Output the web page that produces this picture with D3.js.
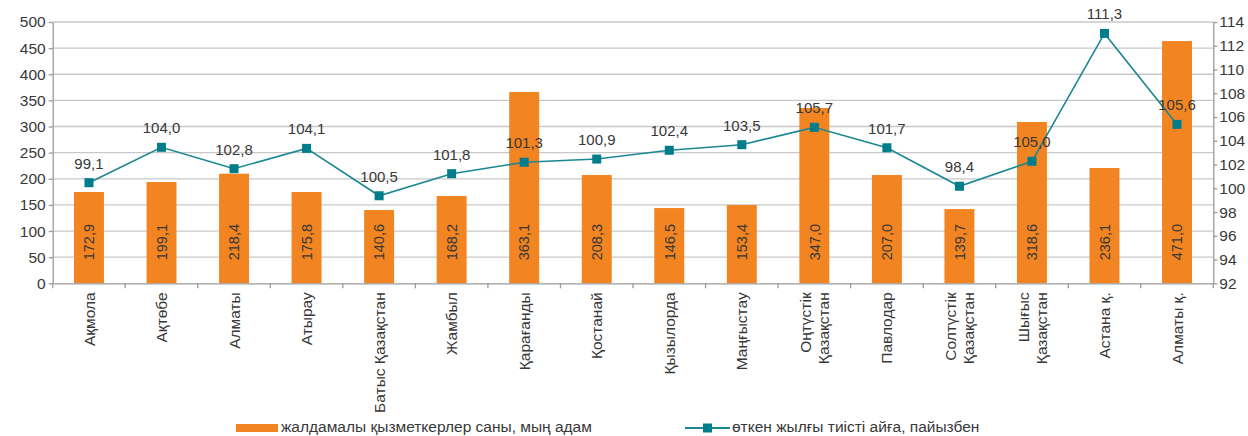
<!DOCTYPE html>
<html>
<head>
<meta charset="utf-8">
<script src="https://cdn.jsdelivr.net/npm/d3@7"></script>
<style>
  body { margin: 0; background: #fff; }
  svg { display: block; font-family: "Liberation Sans", Arial, sans-serif; }
</style>
</head>
<body>
<svg></svg>
<script>
const w = 1248;
const h = 436;

// regions
const regions = ["Ақмола", "Ақтөбе", "Алматы", "Атырау", "Батыс Қазақстан", "Жамбыл",
  "Қарағанды", "Қостанай", "Қызылорда", "Маңғыстау", "Оңтүстік\nҚазақстан", "Павлодар",
  "Солтүстік\nҚазақстан", "Шығыс\nҚазақстан", "Астана қ.", "Алматы қ."];

// bar heights as drawn (left axis)
const employees = [174.7, 193.8, 209.7, 174.7, 140.2, 167, 366, 207.2,
  144, 149.8, 335.4, 207.2, 142, 308.6, 220.6, 463.5];
const employeeLabels = ["172,9", "199,1", "218,4", "175,8", "140,6", "168,2", "363,1", "208,3",
  "146,5", "153,4", "347,0", "207,0", "139,7", "318,6", "236,1", "471,0"];

// line points as drawn (right axis)
const percent = [100.47, 103.45, 101.65, 103.36, 99.37, 101.23, 102.19, 102.46,
  103.2, 103.67, 105.13, 103.41, 100.17, 102.27, 113.04, 105.38];
const percentLabels = ["99,1", "104,0", "102,8", "104,1", "100,5", "101,8", "101,3", "100,9",
  "102,4", "103,5", "105,7", "101,7", "98,4", "105,0", "111,3", "105,6"];

const leftTicks = [0, 50, 100, 150, 200, 250, 300, 350, 400, 450, 500];
const rightTicks = [92, 94, 96, 98, 100, 102, 104, 106, 108, 110, 112, 114];

const legendBar = "жалдамалы қызметкерлер саны, мың адам";
const legendLine = "өткен жылғы тиісті айға, пайызбен";

const orange = "#f28521";
const teal = "#1a8793";
const marker = "#007c8a";
const textColor = "#383838";
const axisColor = "#9a9a9a";

const plotLeft = 52.7, plotRight = 1213.3, plotTop = 22, plotBottom = 283.3;

const svg = d3.select("svg").attr("width", w).attr("height", h);

const x = d3.scaleBand().domain(regions).range([plotLeft, plotRight]);
const yL = d3.scaleLinear().domain([0, 500]).range([plotBottom, plotTop]);
const yR = d3.scaleLinear().domain([92, 114]).range([plotBottom, plotTop]);

// gridlines
svg.append("g")
   .selectAll("line")
   .data(leftTicks.slice(1))
   .enter()
   .append("line")
   .attr("x1", plotLeft)
   .attr("x2", plotRight)
   .attr("y1", d => yL(d))
   .attr("y2", d => yL(d))
   .attr("stroke", "#c8c8c8")
   .attr("stroke-width", 1.3);

// bars
const barW = x.bandwidth() * 0.413;
svg.append("g")
   .selectAll("rect")
   .data(employees)
   .enter()
   .append("rect")
   .attr("x", (d, i) => x(regions[i]) + x.bandwidth() / 2 - barW / 2)
   .attr("y", d => yL(d))
   .attr("width", barW)
   .attr("height", d => yL(0) - yL(d))
   .attr("fill", orange);

// bar labels (inside base, rotated)
svg.append("g")
   .selectAll("text")
   .data(employeeLabels)
   .enter()
   .append("text")
   .attr("transform", (d, i) => `translate(${x(regions[i]) + x.bandwidth() / 2}, ${yL(0) - 23}) rotate(-90)`)
   .attr("dy", "0.36em")
   .attr("font-size", 14.5)
   .attr("fill", textColor)
   .text(d => d);

// axes
const leftAxis = svg.append("g")
   .attr("transform", `translate(${plotLeft}, 0)`)
   .call(d3.axisLeft(yL).tickValues(leftTicks).tickSize(4).tickSizeOuter(0).tickPadding(3));

const rightAxis = svg.append("g")
   .attr("transform", `translate(${plotRight}, 0)`)
   .call(d3.axisRight(yR).tickValues(rightTicks).tickSize(4).tickSizeOuter(0).tickPadding(2));

const bottomAxis = svg.append("g")
   .attr("transform", `translate(0, ${plotBottom})`)
   .call(d3.axisBottom(x).tickSize(0).tickPadding(9));

[leftAxis, rightAxis, bottomAxis].forEach(g => {
  g.selectAll("path, line").attr("stroke", axisColor).attr("stroke-width", 1.3);
  g.selectAll("text").attr("fill", textColor).attr("font-size", 15.5).attr("font-family", null);
});

// x tick marks at band edges
bottomAxis.append("g")
   .selectAll("line")
   .data(regions.concat([null]))
   .enter()
   .append("line")
   .attr("x1", (d, i) => plotLeft + i * x.step())
   .attr("x2", (d, i) => plotLeft + i * x.step())
   .attr("y1", 0)
   .attr("y2", 5)
   .attr("stroke", axisColor)
   .attr("stroke-width", 1.3);

// rotated category labels, split on newline
bottomAxis.selectAll(".tick text")
   .each(function (d) {
     const t = d3.select(this);
     const lines = d.split("\n");
     t.text(null)
      .attr("transform", "rotate(-90)")
      .attr("text-anchor", "end")
      .attr("y", 0)
      .attr("dy", null);
     lines.forEach((ln, k) => {
       t.append("tspan")
        .attr("x", -9)
        .attr("dy", k === 0 ? (0.36 - (lines.length - 1) * 0.58) + "em" : "1.16em")
        .text(ln);
     });
   });

// line series
const line = d3.line()
   .x((d, i) => x(regions[i]) + x.bandwidth() / 2)
   .y(d => yR(d));

svg.append("path")
   .datum(percent)
   .attr("d", line)
   .attr("fill", "none")
   .attr("stroke", teal)
   .attr("stroke-width", 1.6);

svg.append("g")
   .selectAll("rect")
   .data(percent)
   .enter()
   .append("rect")
   .attr("x", (d, i) => x(regions[i]) + x.bandwidth() / 2 - 4.5)
   .attr("y", d => yR(d) - 4.5)
   .attr("width", 9)
   .attr("height", 9)
   .attr("fill", marker);

svg.append("g")
   .selectAll("text")
   .data(percentLabels)
   .enter()
   .append("text")
   .attr("x", (d, i) => x(regions[i]) + x.bandwidth() / 2)
   .attr("y", (d, i) => yR(percent[i]) - 14)
   .attr("text-anchor", "middle")
   .attr("font-size", 15)
   .attr("fill", textColor)
   .text(d => d);

// legend
const legend = svg.append("g");
legend.append("rect")
   .attr("x", 236).attr("y", 424)
   .attr("width", 42).attr("height", 8)
   .attr("fill", orange);
legend.append("text")
   .attr("x", 281).attr("y", 432)
   .attr("font-size", 15.5).attr("fill", textColor)
   .text(legendBar);

legend.append("line")
   .attr("x1", 685).attr("x2", 730)
   .attr("y1", 428).attr("y2", 428)
   .attr("stroke", teal).attr("stroke-width", 1.8);
legend.append("rect")
   .attr("x", 703).attr("y", 423.5)
   .attr("width", 9).attr("height", 9)
   .attr("fill", marker);
legend.append("text")
   .attr("x", 732).attr("y", 432)
   .attr("font-size", 15.5).attr("fill", textColor)
   .text(legendLine);
</script>
</body>
</html>
